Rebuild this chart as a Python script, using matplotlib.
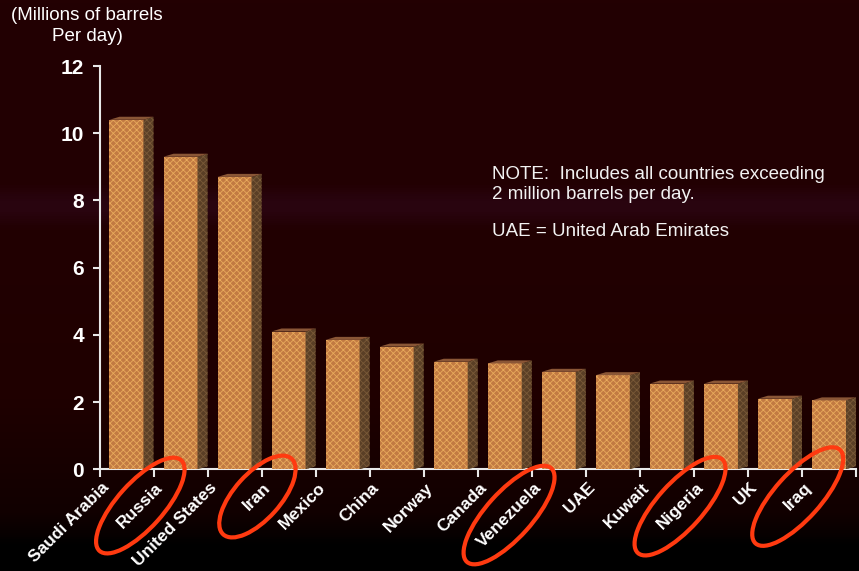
import numpy as np
import matplotlib
matplotlib.use("Agg")
import matplotlib.pyplot as plt
from matplotlib.colors import LinearSegmentedColormap
from matplotlib.patches import Polygon, Ellipse
from matplotlib.transforms import ScaledTranslation, IdentityTransform

# Oil production, millions of barrels per day
countries = ["Saudi Arabia", "Russia", "United States", "Iran", "Mexico", "China",
             "Norway", "Canada", "Venezuela", "UAE", "Kuwait", "Nigeria", "UK", "Iraq"]
production = [10.4, 9.3, 8.7, 4.1, 3.85, 3.65, 3.2, 3.15, 2.9, 2.8, 2.55, 2.55, 2.1, 2.05]
y_ticks = [0, 2, 4, 6, 8, 10, 12]

# countries circled in red, with ellipse size (major, minor) in pixels
circled = ["Russia", "Iran", "Venezuela", "Nigeria", "Iraq"]
circle_sizes = [(122, 46), (102, 46), (126, 46), (126, 46), (126, 46)]

plt.rcParams["font.family"] = ["Liberation Sans", "DejaVu Sans"]
plt.rcParams["hatch.linewidth"] = 0.6

fig = plt.figure(figsize=(8.59, 5.71), dpi=100)

# slide background gradient
bg = fig.add_axes([0, 0, 1, 1], zorder=-10)
bg_cmap = LinearSegmentedColormap.from_list("slide", [
    (0.00, "#230002"), (0.32, "#220002"), (0.35, "#29040f"), (0.37, "#29040f"),
    (0.40, "#220002"), (0.70, "#1f0000"), (0.90, "#110000"), (0.945, "#050000"),
    (0.955, "#000000"), (1.00, "#000000")])
bg.imshow(np.linspace(0, 1, 571).reshape(-1, 1), aspect="auto", cmap=bg_cmap,
          extent=[0, 1, 0, 1], origin="upper")
bg.axis("off")

ax = fig.add_axes([99.5 / 859, 101.7 / 571, 756.5 / 859, 403.3 / 571])
ax.patch.set_alpha(0)

x = np.arange(len(countries))
width = 0.63
dx, dy = 0.185, 0.09

ax.bar(x, production, width=width, color="#C27A42", edgecolor="#E8AA5C",
       linewidth=0, hatch="xxxxx", zorder=3)
for xi, v in zip(x, production):
    right = xi + width / 2
    left = xi - width / 2
    ax.add_patch(Polygon([(right, 0), (right + dx, dy), (right + dx, v + dy), (right, v)],
                         closed=True, facecolor="#5A3F26", edgecolor="#7A5A38",
                         linewidth=0, hatch="xxxxx", zorder=3))
    ax.add_patch(Polygon([(left, v), (left + dx, v + dy), (right + dx, v + dy), (right, v)],
                         closed=True, facecolor="#8A5636", linewidth=0, zorder=3))

ax.set_xlim(-0.5, len(countries) - 0.5)
ax.set_ylim(0, 12)
ax.set_yticks(y_ticks)
ax.set_yticklabels([str(t) for t in y_ticks], fontsize=15, fontweight="heavy", color="white")
ax.set_xticks(x)
ax.set_xticklabels(countries, fontsize=12.5, fontweight="bold", color="white",
                   rotation=45, ha="right", va="center", rotation_mode="anchor")
ax.set_xticks(np.arange(len(countries) + 1) - 0.5, minor=True)
ax.tick_params(axis="x", which="major", length=0, pad=0)
ax.tick_params(axis="x", which="minor", length=6, width=1.5, color="#e8e8e8")
ax.tick_params(axis="y", length=5, width=1.5, color="#e8e8e8", pad=6)

label_shift = ScaledTranslation(-20 / 100, -16 / 100, fig.dpi_scale_trans)
for lab in ax.get_xticklabels():
    lab.set_transform(lab.get_transform() + label_shift)

for side in ["top", "right"]:
    ax.spines[side].set_visible(False)
for side in ["left", "bottom"]:
    ax.spines[side].set_color("#e8e8e8")
    ax.spines[side].set_linewidth(1.5)

fig.text(87 / 859, 1 - 26 / 571, "(Millions of barrels\nPer day)", ha="center", va="center",
         fontsize=13.5, color="white", linespacing=1.35)
fig.text(492 / 859, 1 - 184.5 / 571, "NOTE:  Includes all countries exceeding\n2 million barrels per day.",
         ha="left", va="center", fontsize=13.5, color="#f2f2f2", linespacing=1.3)
fig.text(492 / 859, 1 - 231 / 571, "UAE = United Arab Emirates",
         ha="left", va="center", fontsize=13.5, color="#f2f2f2")

# red ellipses around selected labels
fig.canvas.draw()
renderer = fig.canvas.get_renderer()
labels = {lab.get_text(): lab for lab in ax.get_xticklabels()}
for name, (w, h) in zip(circled, circle_sizes):
    bb = labels[name].get_window_extent(renderer)
    cx, cy = (bb.x0 + bb.x1) / 2, (bb.y0 + bb.y1) / 2
    fig.add_artist(Ellipse((cx, cy), w, h, angle=48, fill=False, edgecolor="#FF3A10",
                           linewidth=3, transform=IdentityTransform(), zorder=5))

fig.savefig("out.png", dpi=100)
